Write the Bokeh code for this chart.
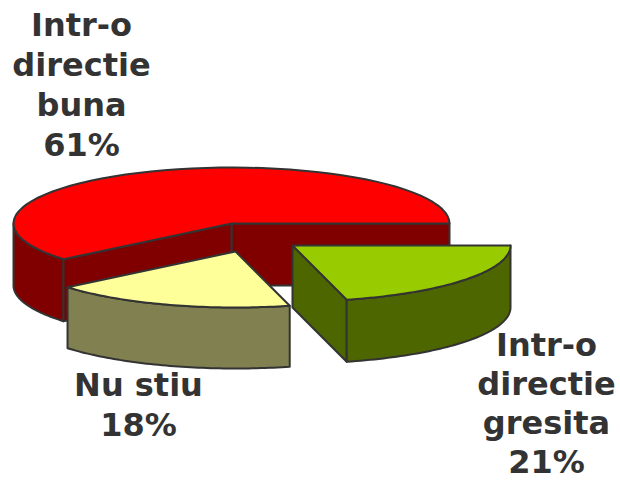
import numpy as np
from bokeh.plotting import figure
from bokeh.embed import file_html
from bokeh.resources import INLINE
from bokeh.core.properties import value

shares = [61, 21, 18]
label_lines = [["Intr-o", "directie", "buna"], ["Intr-o", "directie", "gresita"], ["Nu stiu"]]
top_colors = ["#FF0000", "#99CC00", "#FFFF99"]
wall_colors = ["#800000", "#4D6600", "#808050"]
edge = "#333333"

W, H = 620, 480
p = figure(width=W, height=H, x_range=(0, W), y_range=(H, 0), output_backend="svg",
           toolbar_location=None, min_border=0, outline_line_color=None,
           background_fill_color="white", border_fill_color="white")
p.axis.visible = False
p.grid.visible = False

RX, RY, DEPTH = 218, 56, 62
sweep = [s / sum(shares) * 360 for s in shares]


def arc(cx, cy, a0, a1, n=60):
    t = np.radians(np.linspace(a0, a1, n))
    return cx + RX * np.cos(t), cy - RY * np.sin(t)


def poly(xs, ys, color):
    p.patch(list(xs), list(ys), fill_color=color, line_color=edge, line_width=2, line_join="round")


def wall(cx, cy, a0, a1, color, d=DEPTH):
    x, y = arc(cx, cy, a0, a1)
    poly(np.r_[x, x[::-1]], np.r_[y, y[::-1] + d], color)


def face(x0, y0, x1, y1, color, d=DEPTH):
    poly([x0, x1, x1, x0], [y0, y1, y1 + d, y0 + d], color)


def wedge(cx, cy, a0, a1, color):
    x, y = arc(cx, cy, a0, a1)
    poly(np.r_[cx, x], np.r_[cy, y], color)


# red slice: starts at 3 o'clock, runs counter-clockwise
rc = (231, 223)
r_end = sweep[0]
ex, ey = arc(*rc, r_end, r_end, 2)
wall(*rc, 180, r_end, wall_colors[0])
face(rc[0], rc[1], rc[0] + RX, rc[1], wall_colors[0])
face(ex[0], ey[0], rc[0], rc[1], wall_colors[0])
wedge(*rc, 0, r_end, top_colors[0])

# yellow slice, pulled out downward
yc = (235, 251)
y0 = sweep[0]
y1 = y0 + sweep[2]
wall(*yc, y0, y1, wall_colors[2], d=61)
wedge(*yc, y0, y1, top_colors[2])

# green slice, pulled out to the right
gc = (292, 245)
g0 = -sweep[1]
ax, ay = arc(*gc, g0, g0, 2)
face(gc[0], gc[1], ax[0], ay[0], wall_colors[1])
wall(*gc, g0, 0, wall_colors[1])
wedge(*gc, g0, 0, top_colors[1])

# labels: x, first row y, row pitch
anchors = [(81, 24, 40), (546, 344, 39), (138, 384, 40)]
for lines, share, (lx, ly, pitch) in zip(label_lines, shares, anchors):
    rows = lines + [f"{share}%"]
    p.text([lx] * len(rows), [ly + i * pitch for i in range(len(rows))], text=rows,
           text_align="center", text_baseline="middle", text_color=edge,
           text_font=value("DejaVu Sans"), text_font_style="bold", text_font_size="32px")

open("out.html", "w").write(file_html(p, INLINE))
